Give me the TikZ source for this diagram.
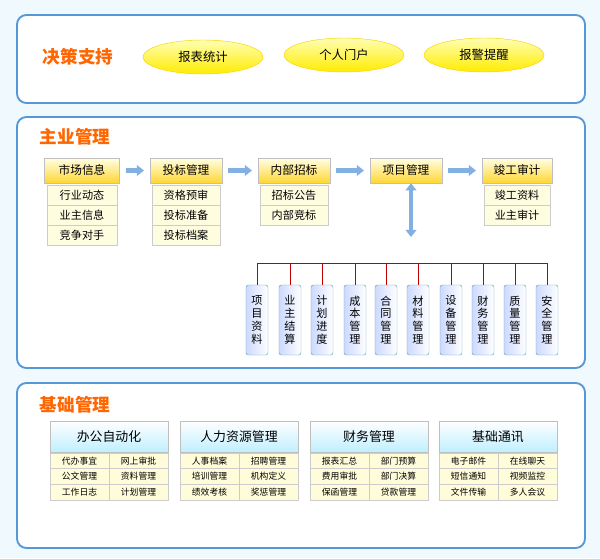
\documentclass[tikz,border=0pt]{standalone}
\usepackage{fontspec}
\newfontfamily\cjk{Noto Sans CJK SC}
\usetikzlibrary{shapes.geometric,arrows.meta}
\begin{document}
\begin{tikzpicture}[x=0.03cm,y=-0.03cm,font=\cjk,
panel/.style={draw=cyan!60!blue!70,line width=1.6pt,rounded corners=8pt,fill=white},
ttl/.style={text=orange!80!red,font=\cjk\bfseries\fontsize{15}{15}\selectfont},
ell/.style={ellipse,draw=yellow!70!orange,top color=yellow!30,bottom color=yellow!85!orange,minimum width=120*0.03cm,minimum height=34*0.03cm,font=\cjk\fontsize{10.5}{10}\selectfont},
hd/.style={draw=gray!50,top color=yellow!10,bottom color=yellow!60!orange!80,minimum height=25*0.03cm,font=\cjk\fontsize{10}{10}\selectfont,inner sep=0pt},
sb/.style={draw=gray!40,fill=yellow!12,minimum height=20*0.03cm,font=\cjk\fontsize{9.5}{10}\selectfont,inner sep=0pt},
vb/.style={draw=cyan!50!gray,rounded corners=2pt,left color=cyan!25!blue!20,right color=white,minimum width=22*0.03cm,minimum height=70*0.03cm,inner sep=1pt,font=\cjk\fontsize{9.5}{11}\selectfont,align=center},
bh/.style={draw=gray!50,top color=white,bottom color=blue!25!cyan!25,minimum width=118*0.03cm,minimum height=31*0.03cm,font=\cjk\fontsize{11}{11}\selectfont,inner sep=0pt},
bs/.style={draw=gray!40,fill=yellow!15,minimum width=59*0.03cm,minimum height=15.6*0.03cm,font=\cjk\fontsize{7.5}{8}\selectfont,inner sep=0pt},
arr/.style={-{Triangle[width=9pt,length=6pt]},line width=4pt,cyan!60!blue!50,shorten <=5pt,shorten >=5pt},
red/.style={draw=red!75!black,line width=0.8pt}]
\fill[cyan!6] (0,0) rectangle (600,558);
\useasboundingbox (0,0) rectangle (600,558);
% top
\draw[panel] (17,15) rectangle (585,103);
\node[ttl] (t1) at (78,57) {决策支持};
\node[ell] (e1) at (203,57) {报表统计};
\node[ell] (e2) at (344,55) {个人门户};
\node[ell] (e3) at (484,55) {报警提醒};
% main
\draw[panel] (17,117) rectangle (585,368);
\node[ttl] (t2) at (75,137) {主业管理};
\foreach \n/\x/\w/\t in {a/82/75/市场信息,b/186/72/投标管理,c/294/72/内部招标,d/406/72/项目管理,e/517/70/竣工审计}
  \node[hd,minimum width=\w*0.03cm] (\n) at (\x,170.5) {\t};
\foreach \n/\x/\w/\y/\t in {a1/82/70/195/行业动态,a2/82/70/215/业主信息,a3/82/70/235/竞争对手,
  b1/186/68/195/资格预审,b2/186/68/215/投标准备,b3/186/68/235/投标档案,
  c1/294/68/195/招标公告,c2/294/68/215/内部竞标,
  e1s/517/66/195/竣工资料,e2s/517/66/215/业主审计}
  \node[sb,minimum width=\w*0.03cm] (\n) at (\x,\y) {\t};
\draw[arr] (a) -- (b); \draw[arr] (b) -- (c); \draw[arr] (c) -- (d); \draw[arr] (d) -- (e);
\coordinate (rl) at (257,263); \coordinate (rr) at (547,263);
\coordinate (da) at (411,237);
\draw[{Triangle[width=9pt,length=6pt]}-{Triangle[width=9pt,length=6pt]},line width=4pt,cyan!60!blue!50] (d.south -| da) -- (da);
\draw[red] (rl) -- (rr);
\foreach \n/\x/\t in {v1/257/项\\目\\资\\料,v2/290/业\\主\\结\\算,v3/322/计\\划\\进\\度,v4/355/成\\本\\管\\理,v5/386/合\\同\\管\\理,v6/418/材\\料\\管\\理,v7/451/设\\备\\管\\理,v8/483/财\\务\\管\\理,v9/515/质\\量\\管\\理,v10/547/安\\全\\管\\理}
{ \node[vb] (\n) at (\x,320) {\t}; \coordinate (c\n) at (\x,263); \draw[red] (c\n) -- (\n.north); }
% bottom
\draw[panel] (17,383) rectangle (585,548);
\node[ttl] (t3) at (75,405) {基础管理};
\foreach \n/\x/\t/\p/\q/\r/\s/\u/\v in {
 p/109/办公自动化/代办事宜/网上审批/公文管理/资料管理/工作日志/计划管理,
 q/239/人力资源管理/人事档案/招聘管理/培训管理/机构定义/绩效考核/奖惩管理,
 r/369/财务管理/报表汇总/部门预算/费用审批/部门决算/保函管理/贷款管理,
 s/498/基础通讯/电子邮件/在线聊天/短信通知/视频监控/文件传输/多人会议}{
 \node[bh] (\n) at (\x,436.5) {\t};
 \node[bs] (\n11) at (\x-29.5,460.8) {\p};
 \node[bs] (\n12) at (\x+29.5,460.8) {\q};
 \node[bs] (\n21) at (\x-29.5,476.4) {\r};
 \node[bs] (\n22) at (\x+29.5,476.4) {\s};
 \node[bs] (\n31) at (\x-29.5,492) {\u};
 \node[bs] (\n32) at (\x+29.5,492) {\v};
}
\end{tikzpicture}
\end{document}
